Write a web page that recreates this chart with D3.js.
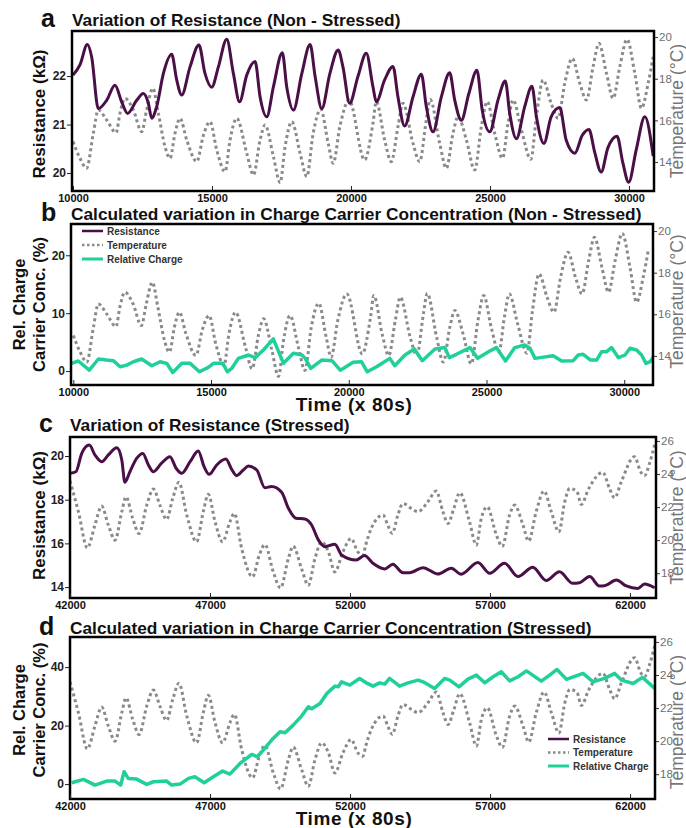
<!DOCTYPE html>
<html><head><meta charset="utf-8">
<script src="https://cdn.jsdelivr.net/npm/d3@7"></script>
<style>body{margin:0;background:#fff}svg{display:block}</style>
</head><body><svg id="chart" width="686" height="828"></svg>
<script>
// ---------- DATA ----------
const nsResTime = [10000,10250,10515,10670,10910,11210,11510,11750,11965,12290,12530,12710,12830,13010,13250,13550,13730,13910,14210,14530,14750,14990,15230,15530,15770,15990,16250,16550,16730,16970,17210,17530,17690,17930,18230,18530,18710,18950,19240,19540,19710,19950,20250,20550,20790,20910,21210,21510,21690,21930,22230,22530,22710,22950,23250,23550,23730,23970,24240,24530,24720,24990,25290,25550,25710,25950,26250,26510,26670,26940,27200,27510,27740,28050,28320,28560,28770,29000,29240,29570,29780,29990,30260,30570,30870];
const nsResValues = [22.02,22.23,22.65,22.40,21.33,21.5,21.81,21.47,21.23,21.5,21.64,21.44,21.13,21.37,22.05,22.45,21.92,21.61,22.19,22.64,22.05,21.77,22.19,22.76,22.05,21.47,22.02,22.30,21.57,21.16,21.78,22.48,21.77,21.30,22.05,22.65,21.99,21.33,22.05,22.54,22.19,21.44,21.99,22.47,21.78,21.47,21.92,22.20,21.57,20.97,21.57,22.04,21.37,20.85,21.57,22.07,21.51,21.09,21.64,22.12,21.30,20.85,21.51,21.90,21.23,20.71,21.37,21.79,21.16,20.61,21.16,21.35,20.68,20.41,20.78,20.90,20.42,20.02,20.52,20.76,20.21,19.81,20.48,21.16,20.35];

const nsTempTime = [10000,10250,10490,10730,10910,11210,11550,11690,11870,12170,12470,12650,12870,13070,13310,13490,13670,13850,14090,14450,14690,14930,15170,15470,15650,15890,16250,16490,16730,16910,17210,17450,17630,17870,18170,18410,18640,18910,19180,19360,19600,19930,20490,20790,20910,21210,21450,21690,21870,22230,22470,22710,22850,23190,23430,23670,23850,24150,24450,24690,24900,25170,25450,25650,25830,26130,26470,26670,26910,27200,27450,27690,27960,28230,28470,28710,28920,29190,29430,29670,29930,30210,30450,30690,30870];
const nsTempValues = [14.98,14.18,13.70,15.38,16.50,16.02,15.41,16.34,17.06,16.50,15.46,16.50,17.54,16.34,14.74,14.18,15.38,16.10,15.06,14.02,15.28,15.94,14.58,13.54,15.06,16.10,14.42,13.38,15.06,15.78,14.26,13.01,14.74,15.94,14.42,13.30,15.38,16.53,14.90,13.94,15.70,16.98,14.10,15.86,16.90,15.06,14.02,15.70,16.82,14.90,14.02,16.02,17.0,14.90,13.70,15.38,16.18,15.06,13.62,15.70,16.90,15.38,14.18,15.86,16.98,15.54,14.13,16.18,17.94,16.82,16.10,17.78,18.98,17.78,16.98,18.58,19.70,18.26,17.06,18.58,19.89,18.26,16.58,17.78,19.05];

const nsChargeTime = [9940,10180,10580,10910,11210,11450,11700,11940,12180,12480,12850,13150,13390,13610,13940,14240,14580,14900,15090,15430,15590,15750,15990,16360,16600,16900,17260,17630,17990,18300,18420,18620,19020,19390,19690,19800,20160,20460,20670,21010,21490,21670,22040,22380,22670,23130,23490,23650,23910,24400,24680,25120,25360,25690,26030,26390,26580,26760,27420,27730,28150,28330,28510,28780,29000,29180,29360,29540,29790,30030,30210,30450,30630,30790,30940,31060];
const nsChargeValues = [1.34,1.74,0.17,2.09,1.91,1.80,0.75,1.04,1.62,2.09,0.92,1.62,1.34,-0.23,1.34,1.34,-0.12,0.64,1.34,1.34,-0.12,0.46,2.2,2.78,2.32,3.65,5.57,1.34,3.08,2.78,2.2,0.46,1.91,1.80,0.17,0.46,1.51,1.62,-0.12,0.75,2.2,0.92,2.78,3.83,1.80,3.83,4.06,2.32,2.9,4.06,2.2,3.48,4.06,1.74,4.06,4.52,3.94,2.2,2.66,1.74,1.80,2.78,2.9,1.91,1.91,3.36,3.36,4.06,2.32,2.78,3.94,3.65,2.78,1.34,1.62,2.49];

const sResTime = [42000,42210,42420,42690,42890,43130,43370,43670,43850,43960,44140,44380,44600,44800,44980,45270,45570,45790,45990,46290,46580,46790,46970,47240,47570,47770,47950,48190,48370,48670,48960,49200,49560,49800,50070,50390,50630,50870,51110,51460,51700,52220,52520,52820,53240,53530,53890,54130,54610,55140,55620,55970,56570,56990,57520,58000,58530,59010,59480,59960,60200,60560,60910,61090,61510,61870,62280,62520,62880];
const sResValues = [19.21,19.28,20.12,20.50,20.05,19.74,20.05,20.38,19.82,18.80,19.28,19.89,20.12,19.59,19.28,19.67,19.97,19.44,19.21,19.74,20.23,19.51,19.16,19.59,19.86,19.40,19.10,19.36,19.54,19.36,18.55,18.60,18.34,17.61,17.15,17.12,16.84,16.16,15.85,15.96,15.47,15.24,15.44,15.09,14.83,15.04,14.66,14.66,14.89,14.60,14.86,14.59,15.13,14.63,15.09,14.48,14.91,14.30,14.70,14.17,14.20,14.48,14.05,14.06,14.32,14.05,13.94,14.14,13.97];

const sTempTime = [42000,42300,42620,42890,43130,43370,43610,43850,44000,44240,44470,44740,44980,45210,45450,45670,45890,46170,46520,46760,46940,47180,47450,47710,47870,48130,48520,48760,48960,49260,49520,49800,49970,50270,50510,50750,50990,51230,51460,51750,52040,52280,52460,52560,52760,53180,53350,53510,53710,53890,54190,54430,54780,55080,55320,55500,55710,55920,56270,56510,56690,56900,57230,57440,57700,57880,58180,58380,58650,58930,59190,59460,59670,59850,60110,60260,60530,61030,61270,61450,61690,62160,62380,62520,62700,62880];
const sTempValues = [23.58,21.72,19.53,20.91,22.06,20.91,20.0,21.72,22.62,21.31,20.40,22.12,23.09,22.12,21.25,22.53,23.50,21.52,19.90,21.72,22.77,21.11,19.90,21.11,21.62,19.50,17.78,19.09,19.74,18.08,17.11,18.89,19.64,18.28,17.27,18.89,19.90,19.29,18.08,19.3,20.10,19.29,19.09,19.70,20.71,21.52,20.91,20.41,21.52,22.22,21.92,21.72,22.32,22.97,21.72,21.01,21.92,22.87,21.11,19.70,21.31,22.02,20.30,19.62,21.52,22.12,20.91,19.94,21.72,22.97,21.72,20.50,22.32,23.13,22.93,22.16,23.13,24.10,23.13,22.56,23.53,25.05,24.14,23.90,24.65,25.76];

const sChargeTime = [42060,42480,42890,43310,43610,43810,43930,44080,44380,44740,44980,45450,45630,45930,46230,46460,46790,47120,47450,47710,48070,48490,48690,48900,49200,49500,49680,49970,50270,50510,50630,50930,51170,51460,51580,51700,51990,52340,52580,52820,53060,53240,53410,53770,54070,54430,54610,55020,55380,55560,55890,56210,56510,56810,57110,57400,57700,58000,58300,58830,59130,59390,59730,60320,60680,61090,61450,61690,62110,62440,62880];
const sChargeValues = [0.46,1.6,-0.34,1.03,1.03,-0.34,4.2,1.94,1.71,-0.1,0.8,1.03,-0.34,0,1.94,2.5,0.46,2.5,4.44,3.42,7.06,10.14,9.34,11.62,15.04,17.88,17.54,20.17,23.25,26.43,25.74,27.59,31.0,33.5,33.27,34.97,33.85,36.13,34.63,33.5,34.63,34.19,36.13,33.5,34.63,35.56,34.97,32.72,36.13,35.56,33.27,35.9,37.26,34.63,36.7,38.4,35.3,36.7,38.7,35.2,37.26,39.2,35.8,37.85,34.97,36.13,37.85,35.56,34.4,36.48,32.72];

const nsTimeTicks = [10000,15000,20000,25000,30000];
const sTimeTicks = [42000,47000,52000,57000,62000];
const nsResTicks = [20,21,22];
const sResTicks = [14,16,18,20];
const nsChargeTicks = [0,10,20];
const sChargeTicks = [0,20,40];
const nsTempTicks = [14,16,18,20];
const sTempTicks = [18,20,22,24,26];
const legendLabels = ["Resistance","Temperature","Relative Charge"];
const panelTitles = ["Variation of Resistance (Non - Stressed)","Calculated variation in Charge Carrier Concentration (Non - Stressed)","Variation of Resistance (Stressed)","Calculated variation in Charge Carrier Concentration (Stressed)"];

// ---------- DRAWING ----------
const FONT = "'Liberation Sans', Arial, Helvetica, sans-serif";
const COL = {res:"#4a0f47", temp:"#8a8a8a", charge:"#1fd09a"};
const STYLE = {
  res:{color:COL.res, w:3, dash:null, curve:d3.curveMonotoneX},
  temp:{color:COL.temp, w:3, dash:"3,3", curve:d3.curveMonotoneX},
  charge:{color:COL.charge, w:3.5, dash:null, curve:d3.curveLinear}
};
const svg = d3.select("#chart");
const defs = svg.append("defs");

function panel(o){
  const x = d3.scaleLinear().domain(o.xDomain).range([o.l,o.r]);
  const yL = d3.scaleLinear().domain(o.yLDomain).range([o.b,o.t]);
  const yR = d3.scaleLinear().domain(o.yRDomain).range([o.b,o.t]);
  const g = svg.append("g");
  defs.append("clipPath").attr("id","clip"+o.id).append("rect")
    .attr("x",o.l).attr("y",o.t).attr("width",o.r-o.l).attr("height",o.b-o.t);
  o.series.forEach(s=>{
    const st = STYLE[s.kind];
    const ys = s.axis==="R"?yR:yL;
    const line = d3.line().x(d=>x(d[0])).y(d=>ys(d[1])).curve(st.curve);
    g.append("path").datum(d3.zip(s.xs,s.ys))
      .attr("clip-path","url(#clip"+o.id+")")
      .attr("d",line).attr("fill","none")
      .attr("stroke",st.color).attr("stroke-width",st.w)
      .attr("stroke-dasharray",st.dash)
      .attr("stroke-linejoin","round");
  });
  g.append("rect").attr("x",o.l).attr("y",o.t).attr("width",o.r-o.l).attr("height",o.b-o.t)
    .attr("fill","none").attr("stroke","#000").attr("stroke-width",2.5);
  // left axis
  const la = g.append("g").attr("transform",`translate(${o.l-1},0)`)
    .call(d3.axisLeft(yL).tickValues(o.yLTicks).tickSize(4).tickPadding(1).tickFormat(d3.format("d")));
  la.select(".domain").remove();
  la.selectAll("line").attr("stroke","#222");
  la.selectAll("text").attr("font-family",FONT).attr("font-size",12).attr("font-weight","bold").attr("fill","#1e1e1e");
  // right axis
  const ra = g.append("g").attr("transform",`translate(${o.r+1},0)`)
    .call(d3.axisRight(yR).tickValues(o.yRTicks).tickSize(3).tickPadding(1).tickFormat(d3.format("d")));
  ra.select(".domain").remove();
  ra.selectAll("line").attr("stroke","#333");
  ra.selectAll("text").attr("font-family",FONT).attr("font-size",11.5).attr("fill","#6e6e6e");
  // bottom axis (inner ticks)
  const ba = g.append("g").attr("transform",`translate(0,${o.b})`)
    .call(d3.axisBottom(x).tickValues(o.xTicks).tickSizeInner(-5).tickSizeOuter(0).tickPadding(3).tickFormat(d3.format("d")));
  ba.select(".domain").remove();
  ba.selectAll("line").attr("stroke","#222");
  ba.selectAll("text").attr("font-family",FONT).attr("font-size",11).attr("font-weight","bold").attr("fill","#111");
  // letter + title
  svg.append("text").attr("x",o.letterX).attr("y",o.titleY).text(o.letter)
    .attr("font-family",FONT).attr("font-size",25).attr("font-weight","bold").attr("fill","#111");
  svg.append("text").attr("x",o.l).attr("y",o.titleY-1).text(o.title)
    .attr("font-family",FONT).attr("font-size",17.3).attr("font-weight","bold").attr("fill","#111");
  // left label(s)
  const cy = (o.t+o.b)/2;
  o.yLLabel.forEach((txt,i)=>{
    const lx = o.yLLabel.length===1 ? 45 : (i===0?25:45);
    svg.append("text").attr("transform",`translate(${lx},${cy+o.yLShift}) rotate(-90)`)
      .attr("text-anchor","middle").text(txt)
      .attr("font-family",FONT).attr("font-size",o.yLLabel.length===1?17:16.5).attr("font-weight","bold").attr("fill","#111");
  });
  svg.append("text").attr("transform",`translate(683,${cy+o.yRShift}) rotate(-90)`)
    .attr("text-anchor","middle").text("Temperature (°C)")
    .attr("font-family",FONT).attr("font-size",17.5).attr("fill","#777");
  if(o.timeLabelY){
    svg.append("text").attr("x",354).attr("y",o.timeLabelY).attr("text-anchor","middle").text("Time (x 80s)")
      .attr("font-family",FONT).attr("font-size",19).attr("font-weight","bold").attr("letter-spacing",0.6).attr("fill","#111");
  }
  if(o.legend){
    const kinds = ["res","temp","charge"];
    kinds.forEach((k,i)=>{
      const yy = o.legend.y + i*o.legend.dy;
      const st = STYLE[k];
      svg.append("line").attr("x1",o.legend.x).attr("x2",o.legend.x+21).attr("y1",yy).attr("y2",yy)
        .attr("stroke",st.color).attr("stroke-width",k==="charge"?3:2.5).attr("stroke-dasharray",k==="temp"?"2.5,2.5":null);
      svg.append("text").attr("x",o.legend.x+25).attr("y",yy).attr("dy","0.35em").text(legendLabels[i])
        .attr("font-family",FONT).attr("font-size",10).attr("font-weight","bold").attr("fill","#333");
    });
  }
}

panel({id:"a", letter:"a", letterX:41, title:panelTitles[0], titleY:27,
  l:72, r:654, t:31, b:191, xDomain:[9964,30900], yLDomain:[19.63,22.93], yRDomain:[12.61,20.29],
  xTicks:nsTimeTicks, yLTicks:nsResTicks, yRTicks:nsTempTicks,
  yLLabel:["Resistance (kΩ)"], yLShift:3, yRShift:0,
  series:[{kind:"temp",axis:"R",xs:nsTempTime,ys:nsTempValues},{kind:"res",axis:"L",xs:nsResTime,ys:nsResValues}]});

panel({id:"b", letter:"b", letterX:41, title:panelTitles[1], titleY:221,
  l:71, r:653, t:224, b:385, xDomain:[9916,31045], yLDomain:[-2.4,25.4], yRDomain:[12.6,20.34],
  xTicks:nsTimeTicks, yLTicks:nsChargeTicks, yRTicks:nsTempTicks,
  yLLabel:["Rel. Charge","Carrier Conc. (%)"], yLShift:0, yRShift:-3,
  timeLabelY:411, legend:{x:82, y:231, dy:14},
  series:[{kind:"temp",axis:"R",xs:nsTempTime,ys:nsTempValues},{kind:"charge",axis:"L",xs:nsChargeTime,ys:nsChargeValues}]});

panel({id:"c", letter:"c", letterX:39, title:panelTitles[2], titleY:432,
  l:70, r:656, t:437, b:598, xDomain:[42000,62930], yLDomain:[13.5,20.87], yRDomain:[16.5,26.24],
  xTicks:sTimeTicks, yLTicks:sResTicks, yRTicks:sTempTicks,
  yLLabel:["Resistance (kΩ)"], yLShift:-2, yRShift:0,
  series:[{kind:"temp",axis:"R",xs:sTempTime,ys:sTempValues},{kind:"res",axis:"L",xs:sResTime,ys:sResValues}]});

panel({id:"d", letter:"d", letterX:39, title:panelTitles[3], titleY:635,
  l:70, r:655, t:637, b:799, xDomain:[42000,62890], yLDomain:[-5.1,50.3], yRDomain:[16.5,26.3],
  xTicks:sTimeTicks, yLTicks:sChargeTicks, yRTicks:sTempTicks,
  yLLabel:["Rel. Charge","Carrier Conc. (%)"], yLShift:-8, yRShift:4,
  timeLabelY:825, legend:{x:548, y:739, dy:13.5},
  series:[{kind:"temp",axis:"R",xs:sTempTime,ys:sTempValues},{kind:"charge",axis:"L",xs:sChargeTime,ys:sChargeValues}]});
</script>
</body></html>
